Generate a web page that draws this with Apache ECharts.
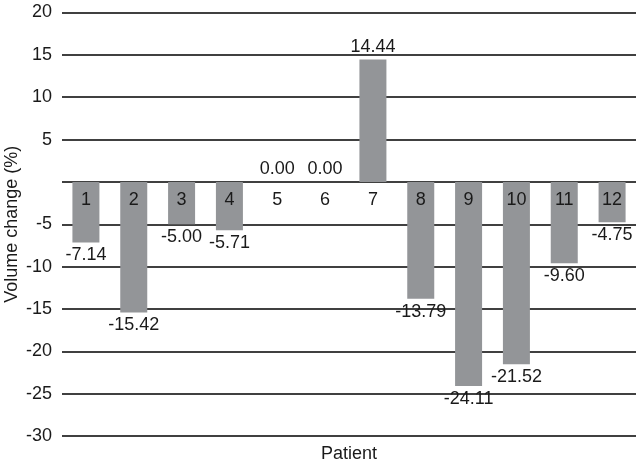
<!DOCTYPE html>
<html><head><meta charset="utf-8">
<script src="https://cdn.jsdelivr.net/npm/echarts@6/dist/echarts.min.js"></script>
<style>html,body{margin:0;padding:0;background:#fff}#c{width:640px;height:464px}</style>
</head><body><div id="c"></div>
<script>
var categories = ['1','2','3','4','5','6','7','8','9','10','11','12'];
var values = [-7.14, -15.42, -5.00, -5.71, 0.00, 0.00, 14.44, -13.79, -24.11, -21.52, -9.60, -4.75];
var yTicks = {min: -30, max: 20, interval: 5};
var chart = echarts.init(document.getElementById('c'));
var font = 'Liberation Sans, Arial, sans-serif';
var txt = '#1a1a1a';
chart.setOption({
  animation: false,
  grid: {left: 62, right: 4, top: 12.5, bottom: 28, containLabel: false, outerBoundsMode: 'none'},
  xAxis: {
    type: 'category', data: categories,
    axisLine: {show: false},
    axisTick: {show: false},
    axisLabel: {show: false},
    name: 'Patient', nameLocation: 'middle', nameGap: 9, nameTextStyle: {color: txt, fontSize: 18, fontFamily: font}
  },
  yAxis: {
    type: 'value', min: yTicks.min, max: yTicks.max, interval: yTicks.interval,
    axisLine: {show: false}, axisTick: {show: false},
    splitLine: {lineStyle: {color: '#000', width: 1.5}},
    axisLabel: {color: txt, fontSize: 18, fontFamily: font, margin: 10,
      formatter: function(v){ return v === 0 ? '' : String(v); }},
    name: 'Volume change (%)', nameLocation: 'middle', nameGap: 41, nameMoveOverlap: false,
    nameTextStyle: {color: txt, fontSize: 18, fontFamily: font}
  },
  series: [{
    type: 'bar', barWidth: 27,
    itemStyle: {color: '#939598'},
    data: values.map(function(v){
      return {value: v, label: {position: v < 0 ? 'bottom' : 'top'}};
    }),
    label: {show: true, distance: 4, color: txt, fontSize: 18, fontFamily: font,
      formatter: function(p){ return p.value.toFixed(2); }}
  }, {
    type: 'scatter', symbolSize: 0, z: 5, silent: true,
    itemStyle: {opacity: 1},
    data: categories.map(function(c){ return [c, 0]; }),
    label: {show: true, position: 'bottom', distance: 9, color: txt, opacity: 1, textBorderWidth: 0,
      fontSize: 18, fontFamily: font,
      formatter: function(p){ return p.value[0]; }}
  }]
});
</script>
</body></html>
